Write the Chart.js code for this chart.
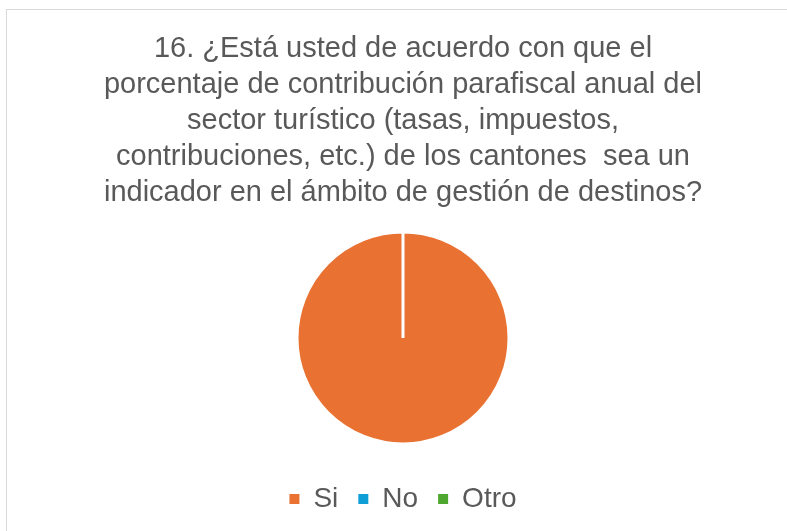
<!DOCTYPE html>
<html>
<head>
<meta charset="utf-8">
<script src="https://cdn.jsdelivr.net/npm/chart.js@4"></script>
<style>
  html, body { margin: 0; padding: 0; overflow: hidden; background: #ffffff; width: 787px; height: 531px; }
  #frame { position: absolute; left: 6px; top: 9px; width: 800px; height: 540px;
           border-left: 1px solid #d9d9d9; border-top: 1px solid #d9d9d9; background: #fff; }
  #wrap { position: absolute; left: 0; top: 0; width: 792px; height: 513px; }
</style>
</head>
<body>
<div id="frame"><div id="wrap"><canvas id="c"></canvas></div></div>
<script>
const categories = ["Si", "No", "Otro"];
const values = [100, 0, 0];
const colors = ["#E97132", "#0F9ED5", "#4EA72E"];
const titleLines = [
  "16. ¿Está usted de acuerdo con que el",
  "porcentaje de contribución parafiscal anual del",
  "sector turístico (tasas, impuestos,",
  "contribuciones, etc.) de los cantones  sea un",
  "indicador en el ámbito de gestión de destinos?"
];

new Chart(document.getElementById("c"), {
  type: "pie",
  data: {
    labels: categories,
    datasets: [{
      data: values,
      backgroundColor: colors,
      borderColor: "#ffffff",
      borderWidth: 3,
      radius: 106
    }]
  },
  options: {
    responsive: true,
    maintainAspectRatio: false,
    animation: false,
    layout: { padding: 0 },
    plugins: {
      title: {
        display: true,
        text: titleLines,
        color: "#595959",
        font: { family: "'Liberation Sans', Arial, sans-serif", size: 29, weight: "normal", lineHeight: 1.24 },
        padding: { top: 21, bottom: 0 }
      },
      legend: {
        position: "bottom",
        labels: {
          color: "#595959",
          boxWidth: 10,
          boxHeight: 10,
          padding: 20,
          font: { family: "'Liberation Sans', Arial, sans-serif", size: 28 },
          generateLabels(chart) {
            const items = Chart.overrides.pie.plugins.legend.labels.generateLabels(chart);
            items.forEach(it => { it.lineWidth = 0; it.strokeStyle = it.fillStyle; });
            return items;
          }
        }
      },
      tooltip: { enabled: false }
    }
  }
});
</script>
</body>
</html>
